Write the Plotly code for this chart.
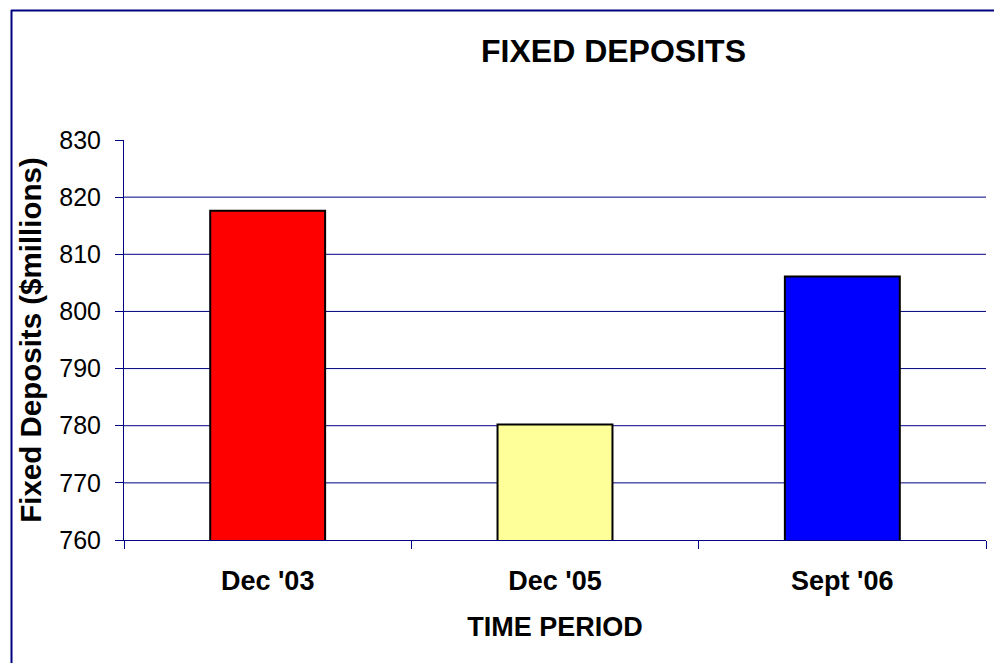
import plotly.graph_objects as go

categories = ["Dec '03", "Dec '05", "Sept '06"]
values = [817.6, 780.2, 806.1]
bar_colors = ["#FF0000", "#FFFF99", "#0000FF"]
y_ticks = [760, 770, 780, 790, 800, 810, 820, 830]
grid_values = [770, 780, 790, 800, 810, 820]

W, H = 994, 663
L, R, T, B = 124, 8, 140, 123
PW, PH = W - L - R, H - T - B
NAVY = "#000080"
FONT = "Liberation Sans, Arial, sans-serif"


def px_x(px):
    return (px - L) / PW


def px_y(py):
    return (H - B - py) / PH


fig = go.Figure(
    go.Bar(
        x=categories,
        y=values,
        marker=dict(color=bar_colors, line=dict(color="#000000", width=2)),
        width=0.4,
    )
)

shapes = []
for g in grid_values:
    shapes.append(dict(type="line", xref="paper", yref="y", x0=0, x1=1, y0=g, y1=g,
                       line=dict(color=NAVY, width=1), layer="below"))
# outer frame (top and left edges visible)
shapes.append(dict(type="line", xref="paper", yref="paper", x0=px_x(11), x1=px_x(994),
                   y0=px_y(10.5), y1=px_y(10.5), line=dict(color=NAVY, width=2)))
shapes.append(dict(type="line", xref="paper", yref="paper", x0=px_x(11.5), x1=px_x(11.5),
                   y0=px_y(10), y1=px_y(663), line=dict(color=NAVY, width=2)))

fig.update_layout(
    width=W, height=H,
    margin=dict(l=L, r=R, t=T, b=B, pad=0),
    paper_bgcolor="white", plot_bgcolor="white",
    showlegend=False,
    font=dict(family=FONT, color="black"),
    title=dict(text="<b>FIXED DEPOSITS</b>", xref="container", yref="container",
               x=613.5 / W, y=1 - 51 / H, xanchor="center", yanchor="middle",
               font=dict(size=32, family=FONT, color="black")),
    shapes=shapes,
    xaxis=dict(
        type="category", showline=True, linecolor=NAVY, linewidth=1,
        ticks="outside", tickson="boundaries", ticklen=8, tickcolor=NAVY,
        showgrid=False, tickfont=dict(size=27, family=FONT, color="black"),
        tickvals=categories,
        ticktext=["<b>" + c + "</b>" for c in categories],
        ticklabelstandoff=17,
        title=dict(text="<b>TIME PERIOD</b>", font=dict(size=27, family=FONT, color="black"),
                   standoff=21),
    ),
    yaxis=dict(
        range=[760, 830], tickvals=y_ticks, showline=True, linecolor=NAVY, linewidth=1,
        ticks="outside", ticklen=8, tickcolor=NAVY, showgrid=False, zeroline=False,
        tickfont=dict(size=25, family=FONT, color="black"),
        ticklabelstandoff=9,
        title=dict(text="<b>Fixed Deposits ($millions)</b>",
                   font=dict(size=29.5, family=FONT, color="black"), standoff=8),
    ),
)

fig.write_html(
    "out.html",
    config={"displayModeBar": False},
    post_script="document.body.style.margin='0';document.body.style.overflow='hidden';",
)
